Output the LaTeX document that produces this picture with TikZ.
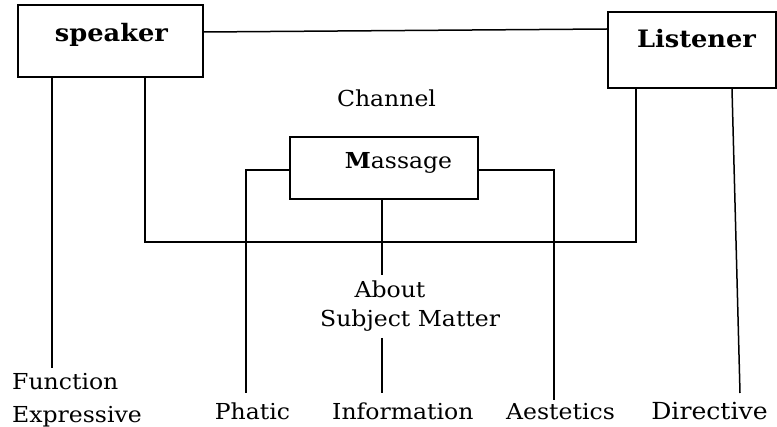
\documentclass[tikz,border=0pt]{standalone}
\usepackage{fontspec}
\setmainfont{DejaVu Serif}[FakeStretch=1.07]
\tikzset{
  box/.style={draw, line width=1.6pt, inner sep=0pt},
  conn/.style={line width=1.5pt},
  lbl/.style={inner sep=0pt, anchor=base, font=\fontsize{22}{26}\selectfont},
  bold/.style={inner sep=0pt, anchor=base, font=\fontsize{24}{28}\selectfont\bfseries}
}
\begin{document}
\begin{tikzpicture}[x=1pt,y=-1pt]
\useasboundingbox (0,0) rectangle (777,427);
% boxes
\node[box, minimum width=185pt, minimum height=72pt] (spk) at (110.5,41) {};
\node[bold] (spkt) at (111.5,42) {speaker};
\node[box, minimum width=168pt, minimum height=76pt] (lst) at (692,50) {};
\node[bold] (lstt) at (696.5,48) {Listener};
\node[box, minimum width=188pt, minimum height=62pt] (msg) at (384,168) {};
\node[lbl] (msgt) at (398.5,169) {\textbf{M}assage};
% labels
\node[lbl] (chan) at (386.5,107) {Channel};
\node[lbl] (about) at (390,298) {About};
\node[lbl, anchor=base west] (subj) at (320,327) {Subject Matter};
\node[lbl, anchor=base west] (func) at (12,390) {Function};
\node[lbl, anchor=base west] (expr) at (12,423) {Expressive};
\node[lbl] (phat) at (252.5,420) {Phatic};
\node[lbl, anchor=base west] (info) at (332,420) {Information};
\node[lbl] (aest) at (560.5,420) {Aestetics};
\node[lbl, font=\fontsize{23.5}{28}\selectfont] (dirv) at (709.5,420) {Directive};
% junction coordinates
\coordinate (c1) at (145,242);
\coordinate (c2) at (636,242);
\coordinate (p1) at (246,170);
\coordinate (p2) at (554,170);
% connectors
\draw[conn] ([yshift=9pt]spk.east) -- ([yshift=21pt]lst.west);
\draw[conn] (spk.south -| 52,0) -- (52,368);
\draw[conn] (spk.south -| c1) -- (c1) -- (c2) -- (lst.south -| c2);
\draw[conn] (lst.south -| 732,0) -- (740,393);
\draw[conn] (msg.west |- p1) -- (p1) -- (246,393);
\draw[conn] (msg.east |- p2) -- (p2) -- (554,400);
\draw[conn] (msg.south -| 382,0) -- (382,275);
\draw[conn] (382,338) -- (382,393);
\end{tikzpicture}
\end{document}
